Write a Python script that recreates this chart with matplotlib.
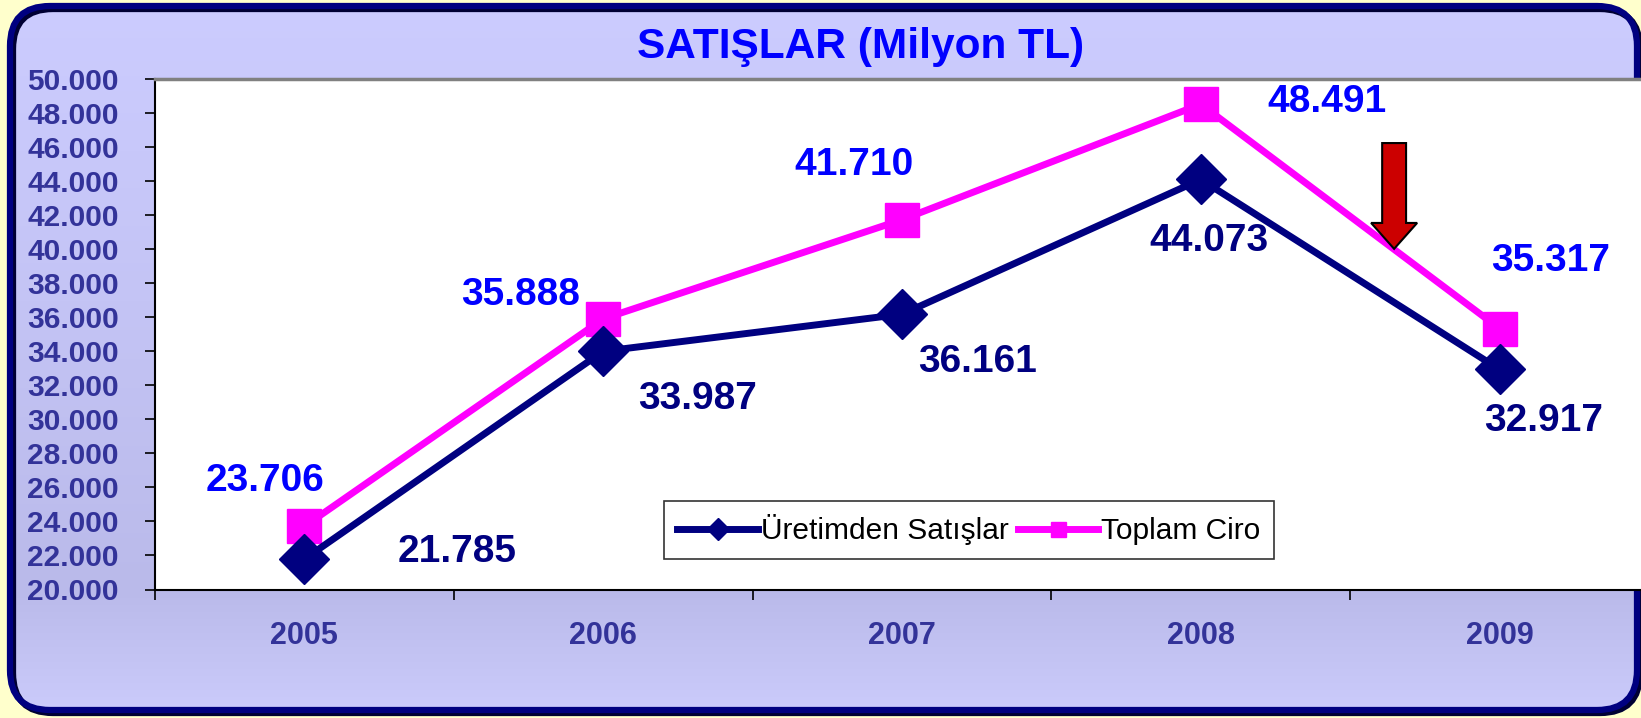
import numpy as np
import matplotlib
matplotlib.use("Agg")
import matplotlib.pyplot as plt
from matplotlib.patches import FancyBboxPatch, Polygon
from matplotlib.ticker import FuncFormatter, FixedLocator

plt.rcParams['font.family'] = ['Liberation Sans', 'DejaVu Sans']

years = ['2005', '2006', '2007', '2008', '2009']
uretim = [21785, 33987, 36161, 44073, 32917]
ciro = [23706, 35888, 41710, 48491, 35317]
uretim_lbl = ['21.785', '33.987', '36.161', '44.073', '32.917']
ciro_lbl = ['23.706', '35.888', '41.710', '48.491', '35.317']
# label offsets in pixels from each point
uretim_off = [(153, 7), (94, -48), (76, -48), (8, -62), (44, -52)]
ciro_off = [(-39, 45), (-83, 24), (-48, 55), (126, 2), (51, 68)]

W, H = 1641, 718
fig = plt.figure(figsize=(W / 100, H / 100), dpi=100)
fig.patch.set_facecolor('#FFFFCC')

# rounded background panel with vertical gradient
bg = fig.add_axes([0, 0, 1, 1])
bg.set_xlim(0, W)
bg.set_ylim(H, 0)
bg.axis('off')
stops_y = [0, 300, 590, 718]
stops_c = [np.array([204, 204, 255]), np.array([196, 196, 245]),
           np.array([186, 186, 234]), np.array([204, 204, 252])]
ys = np.arange(H)
grad = np.zeros((H, 1, 3))
for k in range(3):
    grad[:, 0, k] = np.interp(ys, stops_y, [c[k] for c in stops_c]) / 255
box = FancyBboxPatch((10, 6), W - 14, H - 14, boxstyle='round,pad=0,rounding_size=40',
                     facecolor='none', edgecolor='#000080', linewidth=4.5, zorder=3)
shadow = FancyBboxPatch((13, 9), W - 14, H - 14, boxstyle='round,pad=0,rounding_size=40',
                        facecolor='none', edgecolor='#000033', linewidth=4.5, zorder=2)
bg.add_patch(shadow)
bg.add_patch(box)
im = bg.imshow(grad, extent=[0, W, H, 0], aspect='auto', zorder=1)
im.set_clip_path(box)

fig.text(861 / W, 1 - 58 / H, 'SATIŞLAR (Milyon TL)', color='#0000FF', fontsize=30.5,
         fontweight='bold', ha='center', va='baseline')

ax = fig.add_axes([155 / W, 1 - 589.5 / H, 1494 / W, 511 / H])
ax.set_facecolor('white')
x = np.arange(len(years))
ax.plot(x, uretim, color='#000080', lw=5, marker='D', ms=25, label='Üretimden Satışlar',
        zorder=4)
ax.plot(x, ciro, color='#FF00FF', lw=5, marker='s', ms=24, label='Toplam Ciro', zorder=3)

for i in range(len(years)):
    ax.annotate(uretim_lbl[i], (x[i], uretim[i]), xytext=uretim_off[i],
                textcoords='offset pixels', ha='center', va='center', fontsize=28,
                fontweight='bold', color='#000080', zorder=6)
    ax.annotate(ciro_lbl[i], (x[i], ciro[i]), xytext=ciro_off[i],
                textcoords='offset pixels', ha='center', va='center', fontsize=28,
                fontweight='bold', color='#0000FF', zorder=6)

# red down arrow between 2008 and 2009
ax0, sw, hw = 3.647, 0.04, 0.077
arrow = Polygon([(ax0 - sw, 46210), (ax0 + sw, 46210), (ax0 + sw, 41520), (ax0 + hw, 41520),
                 (ax0, 40000), (ax0 - hw, 41520), (ax0 - sw, 41520)], closed=True,
                facecolor='#CC0000', edgecolor='black', linewidth=1.5, zorder=7)
ax.add_patch(arrow)

ax.set_xlim(-0.5, 4.5)
ax.set_ylim(20000, 50000)
ax.set_yticks(np.arange(20000, 50001, 2000))
ax.yaxis.set_major_formatter(FuncFormatter(lambda v, p: f'{int(v):,}'.replace(',', '.')))
ax.tick_params(axis='y', direction='out', length=7, width=1.2, color='black',
               labelsize=21.5, labelcolor='#333399', pad=19)
for t in ax.get_yticklabels():
    t.set_fontweight('bold')

ax.xaxis.set_major_locator(FixedLocator(np.arange(-0.5, 5, 1)))
ax.xaxis.set_minor_locator(FixedLocator(x))
ax.set_xticklabels([])
ax.set_xticklabels(years, minor=True)
ax.tick_params(axis='x', which='major', direction='out', length=7, width=1.2, color='black')
ax.tick_params(axis='x', which='minor', length=0, pad=23, labelsize=22,
               labelcolor='#333399')
for t in ax.get_xticklabels(minor=True):
    t.set_fontweight('bold')

ax.spines['left'].set_color('black')
ax.spines['left'].set_linewidth(1.5)
ax.spines['bottom'].set_color('black')
ax.spines['bottom'].set_linewidth(1.5)
ax.spines['top'].set_color('#808080')
ax.spines['top'].set_linewidth(2.5)
ax.spines['right'].set_visible(False)

leg = ax.legend(loc='upper left', bbox_to_anchor=((664 - 155) / 1494, (589.5 - 501) / 511),
                ncol=2, fontsize=21.5, frameon=True, fancybox=False, edgecolor='black',
                borderpad=0.45, borderaxespad=0, handlelength=2.7, handletextpad=0.1,
                columnspacing=0.3, markerscale=0.45)
leg.get_frame().set_linewidth(1.2)

fig.savefig('out.png', dpi=100, facecolor=fig.get_facecolor())
